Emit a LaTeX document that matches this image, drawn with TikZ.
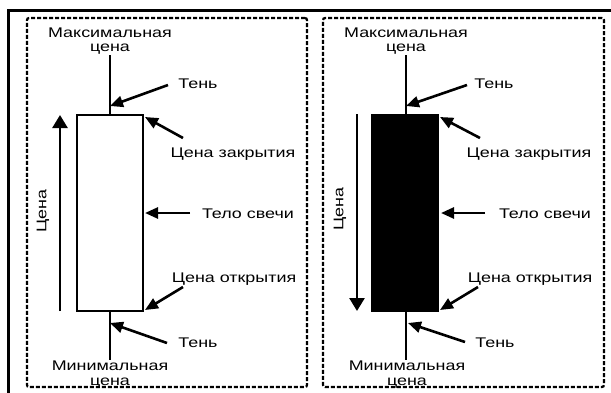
\documentclass[tikz,border=0pt]{standalone}
\usepackage{fontspec}
\setmainfont{Liberation Sans}[FakeStretch=1.28]
\usetikzlibrary{arrows.meta}
\begin{document}
\begin{tikzpicture}[x=1pt,y=-1pt,
  lbl/.style={font=\fontsize{14}{14}\selectfont, inner sep=0pt, anchor=base},
  boxframe/.style={draw, line width=2.2pt, dash pattern=on 4pt off 2pt, rounded corners=2pt},
  ptr/.style={draw, line width=2.6pt, -{Triangle[length=13pt,width=11pt]}},
  varrow/.style={draw, line width=2.6pt, -{Triangle[length=13pt,width=15pt]}},
  wick/.style={draw, line width=2.6pt},
  bodywhite/.style={draw, line width=2.6pt, fill=white, minimum width=66pt, minimum height=196pt, inner sep=0pt},
  bodyblack/.style={draw, line width=2.6pt, fill=black, minimum width=66pt, minimum height=196pt, inner sep=0pt}
]
\useasboundingbox (0,0) rectangle (611,392);
% outer frame
\draw[line width=3pt, line join=miter] (8.3,394) -- (8.3,10.7) -- (613,10.7);
% dashed panels
\node[boxframe, minimum width=280pt, minimum height=369pt, inner sep=0pt] (Lbox) at (167,202.5) {};
\node[boxframe, minimum width=281pt, minimum height=369pt, inner sep=0pt] (Rbox) at (463.5,202.5) {};

% ===== LEFT PANEL =====
\coordinate (L-wt) at (110,55);
\coordinate (L-wb) at (110,360);
\draw[wick] (L-wt) -- (L-wb);
\node[bodywhite] (L-body) at (110,213) {};
\coordinate (L-ab) at (60,311);
\coordinate (L-at) at (60,115);
\draw[varrow] (L-ab) -- (L-at);
\node[lbl, rotate=90, anchor=center] (L-price) at (43,211) {Цена};

\node[lbl] (L-max1) at (110,37) {Максимальная};
\node[lbl] (L-max2) at (110,51) {цена};
\node[lbl] (L-min1) at (110,370) {Минимальная};
\node[lbl] (L-min2) at (110,385) {цена};

\node[lbl] (L-sh1) at (198,88) {Тень};
\node[lbl] (L-cl) at (233,157) {Цена закрытия};
\node[lbl] (L-bd) at (248,218) {Тело свечи};
\node[lbl] (L-op) at (234,282) {Цена открытия};
\node[lbl] (L-sh2) at (198,347) {Тень};

\coordinate (L-sh1t) at (168,85);   \coordinate (L-sh1h) at (110,106);
\coordinate (L-clt) at (183,138);   \coordinate (L-clh) at (145,117);
\coordinate (L-bdt) at (190,213);   \coordinate (L-bdh) at (145,213);
\coordinate (L-opt) at (183,287);   \coordinate (L-oph) at (145,310);
\coordinate (L-sh2t) at (167,343);  \coordinate (L-sh2h) at (110,323);
\draw[ptr] (L-sh1t) -- (L-sh1h);
\draw[ptr] (L-clt) -- (L-clh);
\draw[ptr] (L-bdt) -- (L-bdh);
\draw[ptr] (L-opt) -- (L-oph);
\draw[ptr] (L-sh2t) -- (L-sh2h);

% ===== RIGHT PANEL =====
\coordinate (R-wt) at (406,55);
\coordinate (R-wb) at (406,360);
\draw[wick] (R-wt) -- (R-wb);
\node[bodyblack] (R-body) at (405,213) {};
\coordinate (R-at) at (357,114);
\coordinate (R-ab) at (357,311);
\draw[varrow] (R-at) -- (R-ab);
\node[lbl, rotate=90, anchor=center] (R-price) at (340,209) {Цена};

\node[lbl] (R-max1) at (406,37) {Максимальная};
\node[lbl] (R-max2) at (406,51) {цена};
\node[lbl] (R-min1) at (407,370) {Минимальная};
\node[lbl] (R-min2) at (407,385) {цена};

\node[lbl] (R-sh1) at (494,88) {Тень};
\node[lbl] (R-cl) at (529,157) {Цена закрытия};
\node[lbl] (R-bd) at (545,218) {Тело свечи};
\node[lbl] (R-op) at (530,282) {Цена открытия};
\node[lbl] (R-sh2) at (495,347) {Тень};

\coordinate (R-sh1t) at (467,85);   \coordinate (R-sh1h) at (406,106);
\coordinate (R-clt) at (480,138);   \coordinate (R-clh) at (440,117);
\coordinate (R-bdt) at (485,213);   \coordinate (R-bdh) at (441,213);
\coordinate (R-opt) at (478,287);   \coordinate (R-oph) at (440,310);
\coordinate (R-sh2t) at (465,342);  \coordinate (R-sh2h) at (408,323);
\draw[ptr] (R-sh1t) -- (R-sh1h);
\draw[ptr] (R-clt) -- (R-clh);
\draw[ptr] (R-bdt) -- (R-bdh);
\draw[ptr] (R-opt) -- (R-oph);
\draw[ptr] (R-sh2t) -- (R-sh2h);
\end{tikzpicture}
\end{document}
